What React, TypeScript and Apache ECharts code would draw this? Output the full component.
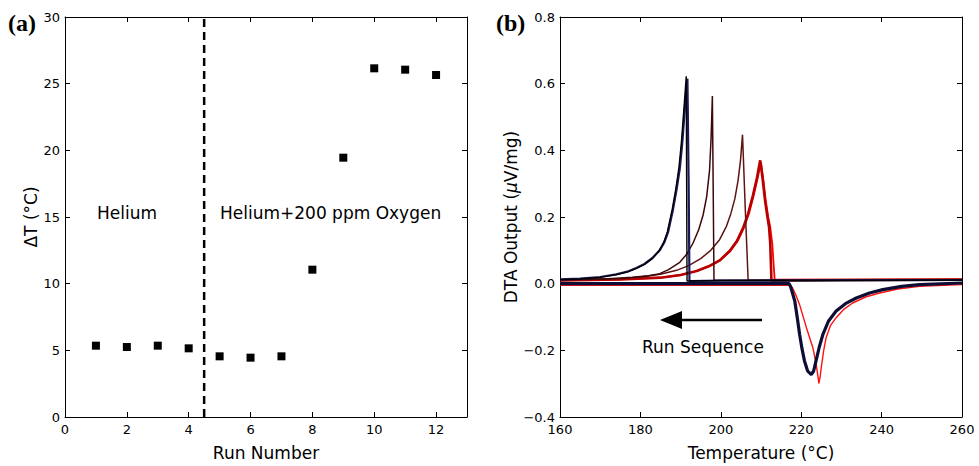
import React, { useEffect, useRef } from "react";
import * as echarts from "echarts";

// ---------- Panel (a) data ----------
const runNumbers = [1, 2, 3, 4, 5, 6, 7, 8, 9, 10, 11, 12];
const deltaT = [5.35, 5.25, 5.35, 5.15, 4.55, 4.45, 4.55, 11.05, 19.45, 26.15, 26.05, 25.65];
const dividerRun = 4.5;

// ---------- Panel (b) data: [Temperature, DTA output] ----------
const coolNavy: [number, number][] = [
  [160, 0.013], [165, 0.015], [170, 0.02], [174, 0.028], [177, 0.037], [179, 0.047],
  [181, 0.059], [183, 0.077], [184.8, 0.1], [186, 0.125], [186.9, 0.155], [188.1, 0.222],
  [189, 0.282], [189.8, 0.345], [190.4, 0.42], [190.9, 0.5], [191.3, 0.565], [191.7, 0.615],
  [192.0, 0.3], [192.2, 0.008], [200, 0.009], [230, 0.01], [260, 0.011],
];
const coolBlack: [number, number][] = [
  [160, 0.012], [165, 0.014], [170, 0.019], [174, 0.027], [177, 0.036], [179, 0.046],
  [181, 0.058], [183, 0.076], [184.6, 0.098], [185.8, 0.124], [186.7, 0.155], [187.9, 0.222],
  [188.8, 0.284], [189.6, 0.35], [190.2, 0.425], [190.7, 0.505], [191.1, 0.57], [191.4, 0.622],
  [191.5, 0.3], [191.6, 0.008], [200, 0.009], [230, 0.01], [260, 0.011],
];
const coolBrown1: [number, number][] = [
  [160, 0.012], [172, 0.015], [178, 0.019], [182, 0.024], [184.8, 0.03], [187, 0.042],
  [189.8, 0.064], [191.5, 0.088], [193.1, 0.122], [194.5, 0.162], [195.6, 0.206],
  [196.5, 0.262], [197.2, 0.34], [197.6, 0.44], [197.9, 0.563], [198.1, 0.3], [198.3, 0.01],
  [230, 0.011], [260, 0.011],
];
const coolBrown2: [number, number][] = [
  [160, 0.011], [175, 0.015], [180, 0.02], [185, 0.028], [189, 0.04], [192, 0.054],
  [195, 0.075], [197.5, 0.1], [199.7, 0.132], [201.4, 0.172], [202.5, 0.21], [203.5, 0.255],
  [204.3, 0.31], [204.9, 0.37], [205.4, 0.447], [206.1, 0.22], [206.8, 0.01], [230, 0.011],
  [260, 0.011],
];
const coolRed1: [number, number][] = [
  [160, 0.01], [175, 0.013], [185, 0.018], [190, 0.026], [194, 0.038], [197, 0.052],
  [199.7, 0.07], [202.2, 0.098], [204, 0.128], [205.5, 0.166], [206.8, 0.21], [208, 0.265],
  [209, 0.318], [209.8, 0.37], [210.4, 0.315], [211.0, 0.25], [211.6, 0.2], [212.0, 0.17],
  [212.3, 0.12], [212.6, 0.01], [230, 0.011], [260, 0.012],
];
const coolRed2: [number, number][] = [
  [160, 0.01], [175, 0.013], [185, 0.018], [190, 0.026], [194, 0.038], [197, 0.052],
  [199.9, 0.07], [202.4, 0.098], [204.2, 0.128], [205.7, 0.166], [207, 0.21], [208.2, 0.265],
  [209.2, 0.318], [210.0, 0.365], [210.6, 0.31], [211.2, 0.248], [211.8, 0.2], [212.3, 0.17],
  [212.8, 0.12], [213.4, 0.012], [230, 0.012], [260, 0.013],
];
const heatRed: [number, number][] = [
  [160, -0.005], [217.3, -0.005], [217.8, -0.012], [218.7, -0.035], [219.6, -0.063],
  [221.3, -0.132], [222.9, -0.192], [223.7, -0.24], [224.2, -0.281], [224.4, -0.299],
  [224.7, -0.28], [225, -0.251], [225.6, -0.2], [226.2, -0.162], [227.3, -0.125],
  [228.7, -0.102], [230.5, -0.078], [232.8, -0.058], [236, -0.04], [239.5, -0.028],
  [244, -0.016], [249.4, -0.008], [260, -0.003],
];
const heatNavy: [number, number][] = [
  [160, 0.0], [217, 0.0], [217.4, -0.01], [218.4, -0.052], [219.0, -0.1], [219.6, -0.152],
  [220.2, -0.195], [220.8, -0.231], [221.6, -0.262], [222.5, -0.273], [223.1, -0.262],
  [223.7, -0.231], [224.5, -0.19], [225.4, -0.152], [226.8, -0.112], [228.7, -0.082],
  [231, -0.06], [233.7, -0.043], [237, -0.028], [240.3, -0.018], [245, -0.008],
  [249.4, -0.003], [260, 0.002],
];

const FONT = '"DejaVu Sans", sans-serif';

function frameAxis(gridIndex: number, min: number, max: number, interval: number, extra: any = {}) {
  return {
    type: "value",
    gridIndex,
    min,
    max,
    interval,
    axisLine: { show: true, onZero: false, lineStyle: { color: "#000", width: 1 } },
    axisTick: { show: true, inside: true, length: 5, lineStyle: { color: "#000" } },
    splitLine: { show: false },
    ...extra,
  };
}

export default function App() {
  const ref = useRef<HTMLDivElement>(null);

  useEffect(() => {
    if (!ref.current) return;
    const chart = echarts.init(ref.current, undefined, { renderer: "svg" });
    const labelStyle = { color: "#000", fontSize: 13, fontFamily: FONT };
    const fmt1 = (v: number) => v.toFixed(1).replace("-", "\u2212");

    const option: any = {
      animation: false,
      backgroundColor: "#fff",
      textStyle: { fontFamily: FONT },
      grid: [
        { left: 65, top: 17, width: 402, height: 402 },
        { left: 560, top: 17, width: 402, height: 402 },
      ],
      xAxis: [
        frameAxis(0, 0, 13, 2, {
          position: "bottom",
          axisLabel: {
            ...labelStyle,
            margin: 6,
            formatter: (v: number) => (v > 12 ? "" : String(v)),
          },
          name: "Run Number",
          nameLocation: "middle",
          nameGap: 27,
          nameTextStyle: { color: "#000", fontSize: 17, fontFamily: FONT },
        }),
        frameAxis(0, 0, 13, 2, { position: "top", axisLabel: { show: false } }),
        frameAxis(1, 160, 260, 20, {
          position: "bottom",
          axisLabel: { ...labelStyle, margin: 6 },
          name: "Temperature (°C)",
          nameLocation: "middle",
          nameGap: 27,
          nameTextStyle: { color: "#000", fontSize: 17, fontFamily: FONT },
        }),
        frameAxis(1, 160, 260, 20, { position: "top", axisLabel: { show: false } }),
      ],
      yAxis: [
        frameAxis(0, 0, 30, 5, {
          position: "left",
          axisLabel: { ...labelStyle, margin: 5 },
          name: "ΔT (°C)",
          nameLocation: "middle",
          nameGap: 26,
          nameTextStyle: { color: "#000", fontSize: 17, fontFamily: FONT },
        }),
        frameAxis(0, 0, 30, 5, { position: "right", axisLabel: { show: false } }),
        frameAxis(1, -0.4, 0.8, 0.2, {
          position: "left",
          axisLabel: { ...labelStyle, margin: 5, formatter: fmt1 },
          name: "DTA Output ({i|μ}V/mg)",
          nameLocation: "middle",
          nameGap: 38,
          nameTextStyle: {
            color: "#000",
            fontSize: 17,
            fontFamily: FONT,
            rich: { i: { fontStyle: "italic", fontSize: 17, fontFamily: FONT, color: "#000" } },
          },
        }),
        frameAxis(1, -0.4, 0.8, 0.2, { position: "right", axisLabel: { show: false } }),
      ],
      series: [
        {
          type: "line",
          xAxisIndex: 0,
          yAxisIndex: 0,
          data: [
            [dividerRun, 0],
            [dividerRun, 30],
          ],
          symbol: "none",
          lineStyle: { color: "#000", width: 2.5, type: [8, 5] },
        },
        {
          type: "scatter",
          xAxisIndex: 0,
          yAxisIndex: 0,
          data: runNumbers.map((r, i) => [r, deltaT[i]]),
          symbol: "rect",
          symbolSize: 8,
          itemStyle: { color: "#000", opacity: 1 },
        },
        ...[
          { d: heatRed, c: "#ff1010", w: 1.4 },
          { d: coolRed2, c: "#ff0000", w: 1.8 },
          { d: coolRed1, c: "#b80000", w: 2.6 },
          { d: coolBrown2, c: "#5e1414", w: 1.5 },
          { d: coolBrown1, c: "#3c0808", w: 1.5 },
          { d: coolNavy, c: "#1a1a5a", w: 2.2 },
          { d: coolBlack, c: "#000000", w: 1.4 },
          { d: heatNavy, c: "#0d0d35", w: 3.2 },
        ].map((s) => ({
          type: "line",
          xAxisIndex: 2,
          yAxisIndex: 2,
          data: s.d,
          symbol: "none",
          smooth: false,
          lineStyle: { color: s.c, width: s.w },
        })),
      ],
      graphic: [
        {
          type: "text",
          x: 8,
          y: 23,
          style: {
            text: "(a)",
            fontFamily: '"Liberation Serif", serif',
            fontWeight: "bold",
            fontSize: 24,
            fill: "#000",
            verticalAlign: "middle",
          },
        },
        {
          type: "text",
          x: 496,
          y: 23,
          style: {
            text: "(b)",
            fontFamily: '"Liberation Serif", serif',
            fontWeight: "bold",
            fontSize: 24,
            fill: "#000",
            verticalAlign: "middle",
          },
        },
        {
          type: "text",
          x: 97,
          y: 213,
          style: { text: "Helium", fontFamily: FONT, fontSize: 17, fill: "#000", verticalAlign: "middle" },
        },
        {
          type: "text",
          x: 220,
          y: 213,
          style: {
            text: "Helium+200 ppm Oxygen",
            fontFamily: FONT,
            fontSize: 17,
            fill: "#000",
            verticalAlign: "middle",
          },
        },
        {
          type: "line",
          shape: { x1: 680, y1: 320, x2: 762, y2: 320 },
          style: { stroke: "#000", lineWidth: 2.4 },
        },
        {
          type: "polygon",
          shape: {
            points: [
              [660, 320],
              [682, 311],
              [682, 329],
            ],
          },
          style: { fill: "#000" },
        },
        {
          type: "text",
          x: 642,
          y: 347,
          style: { text: "Run Sequence", fontFamily: FONT, fontSize: 17, fill: "#000", verticalAlign: "middle" },
        },
      ],
    };

    chart.setOption(option);
    return () => chart.dispose();
  }, []);

  return (
    <div
      ref={ref}
      style={{ position: "fixed", left: 0, top: 0, width: 979, height: 466, background: "#fff" }}
    />
  );
}
